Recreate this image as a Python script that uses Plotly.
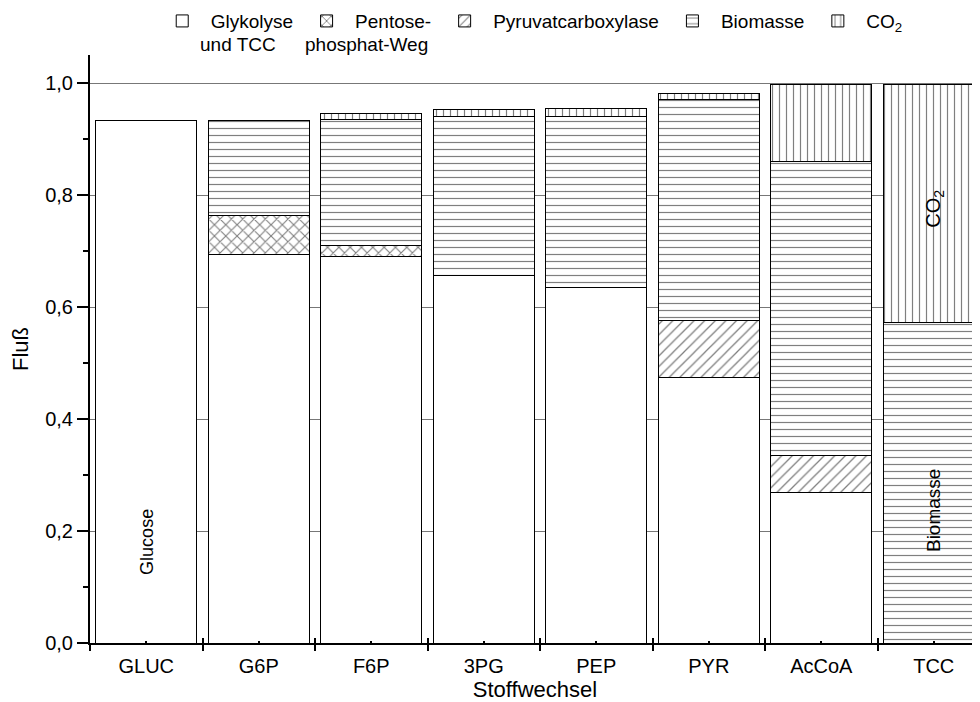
import plotly.graph_objects as go

categories = ["GLUC", "G6P", "F6P", "3PG", "PEP", "PYR", "AcCoA", "TCC"]
glykolyse = [0.933, 0.693, 0.691, 0.656, 0.634, 0.475, 0.268, None]
pentose = [None, 0.070, 0.019, None, None, None, None, None]
pyruvat = [None, None, None, None, None, 0.101, 0.067, None]
biomasse = [None, 0.170, 0.224, 0.284, 0.307, 0.394, 0.525, 0.5725]
co2 = [None, None, 0.012, 0.012, 0.013, 0.012, 0.138, 0.425]

# (legend name, values, pattern shape, pattern size, solidity)
series = [
    ("Glykolyse", glykolyse, "", 8, 0.2),
    ("Pentose-", pentose, "x", 8, 0.26),
    ("Pyruvatcarboxylase", pyruvat, "/", 7.5, 0.17),
    ("Biomasse", biomasse, "-", 7, 0.17),
    ("CO<sub>2</sub>", co2, "|", 7, 0.17),
]
legend_second_lines = ["und TCC", "phosphat-Weg"]

FONT = "Liberation Sans, Arial, Helvetica, sans-serif"

fig = go.Figure()
for name, vals, shape, size, sol in series:
    fig.add_trace(go.Bar(
        x=categories, y=vals, name=name,
        marker=dict(
            color="white",
            line=dict(color="black", width=1),
            pattern=dict(shape=shape, size=size, solidity=sol,
                         fgcolor="black", bgcolor="white"),
        ),
        hoverinfo="x+y+name",
    ))

# helper trace for the overlay tick axis
fig.add_trace(go.Scatter(x=[None], y=[None], xaxis="x2", showlegend=False,
                         hoverinfo="skip", mode="markers"))

# page has an 8px body margin: the figure is drawn 8px right and down
fig.update_layout(
    width=972, height=694,
    barmode="stack", bargap=0.1,
    paper_bgcolor="white", plot_bgcolor="white",
    separators=",.",
    font=dict(family=FONT, size=20, color="black"),
    margin=dict(l=82, r=0, t=47, b=59, autoexpand=False),
    xaxis=dict(
        type="category", range=[-0.5, 7.411],
        showline=True, linecolor="black", linewidth=2,
        ticks="outside", tickson="boundaries", ticklen=6, tickwidth=2,
        tickcolor="black", showgrid=False, ticklabelstandoff=4,
        tickfont=dict(size=20),
        title=dict(text="Stoffwechsel", font=dict(size=22), standoff=0),
    ),
    xaxis2=dict(
        overlaying="x", anchor="y", side="bottom", range=[-0.5, 7.411],
        tickvals=[-0.5 + i for i in range(9)],
        ticks="inside", ticklen=5, tickwidth=2, tickcolor="black",
        showticklabels=False, showgrid=False, showline=False, zeroline=False,
        minor=dict(tickvals=list(range(8)), ticks="inside", ticklen=2,
                   tickwidth=2, tickcolor="black"),
    ),
    yaxis=dict(
        range=[0, 1.05], dtick=0.2, tick0=0, tickformat=".1f",
        showline=True, linecolor="black", linewidth=2,
        ticks="outside", ticklen=11, tickwidth=2, tickcolor="black",
        showgrid=True, gridcolor="#777777", gridwidth=1, zeroline=False,
        minor=dict(dtick=0.1, ticks="outside", ticklen=5, tickwidth=2,
                   tickcolor="black", showgrid=False),
        tickfont=dict(size=20),
        title=dict(text="Fluß", font=dict(size=22), standoff=12),
    ),
    legend=dict(
        orientation="h", x=0.0716, xanchor="left", y=1.09, yanchor="top",
        valign="top", font=dict(size=19), bgcolor="rgba(0,0,0,0)",
        traceorder="normal", itemwidth=47,
    ),
    annotations=[
        dict(x="GLUC", y=0.181, text="Glucose", textangle=-90, showarrow=False,
             font=dict(size=18)),
        dict(x="TCC", y=0.237, text="Biomasse", textangle=-90, showarrow=False,
             font=dict(size=19)),
        dict(x="TCC", y=0.775, text="CO<sub>2</sub>", textangle=-90,
             showarrow=False, font=dict(size=20)),
        dict(xref="paper", yref="paper", x=0.1213, y=1.0187, xanchor="left",
             yanchor="middle", text=legend_second_lines[0], showarrow=False,
             font=dict(size=19)),
        dict(xref="paper", yref="paper", x=0.2393, y=1.0187, xanchor="left",
             yanchor="middle", text=legend_second_lines[1], showarrow=False,
             font=dict(size=19)),
    ],
)

fig.write_html("out.html")
